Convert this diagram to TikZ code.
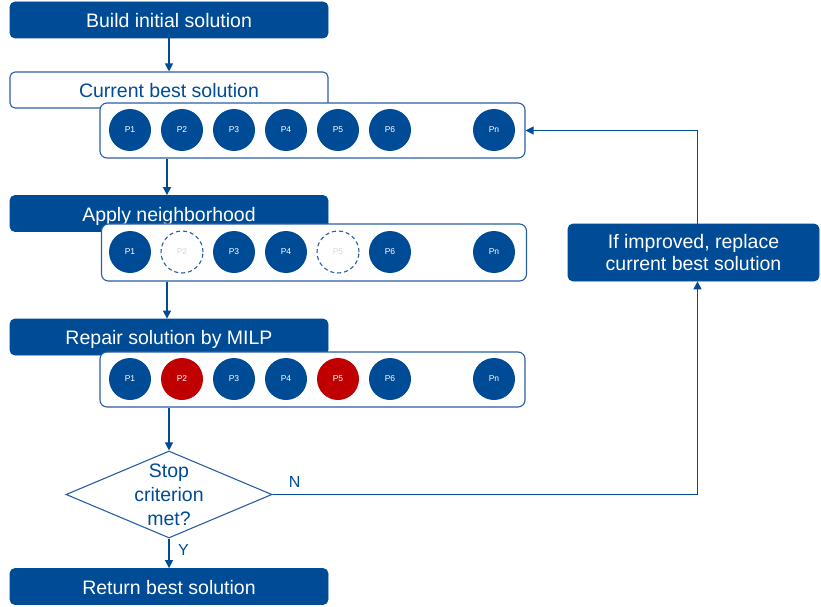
\documentclass[tikz,border=0pt]{standalone}
\usepackage{fontspec}
\setmainfont{Liberation Sans}
\usetikzlibrary{shapes.geometric,arrows.meta}
\definecolor{dblue}{RGB}{0,75,150}
\definecolor{lblue}{RGB}{40,95,165}
\definecolor{dred}{RGB}{192,0,0}
\definecolor{pgray}{RGB}{215,215,215}
\begin{document}
\begin{tikzpicture}[x=1pt,y=-1pt,
  head/.style={draw=dblue,fill=dblue,text=white,rounded corners=5pt,minimum width=318pt,minimum height=36pt,inner sep=0pt,font=\fontsize{19.5}{23}\selectfont,line width=0.8pt},
  headone/.style={head,text height=15pt,text depth=0pt},
  headw/.style={headone,fill=white,draw=lblue,text=dblue,line width=1.1pt},
  rowbox/.style={draw=lblue,fill=white,rounded corners=7pt,line width=1.1pt,minimum width=425pt,inner sep=0pt},
  pc/.style={circle,fill=dblue,text=white,minimum size=42pt,inner sep=0pt,font=\fontsize{8.5}{10}\selectfont},
  pcred/.style={pc,fill=dred},
  pcdash/.style={pc,fill=white,draw=lblue,dash pattern=on 4pt off 3pt,line width=1.1pt,text=pgray},
  arr/.style={draw=dblue,line width=1.2pt,-{Triangle[length=8pt,width=8pt]}},
  lbl/.style={text=dblue,font=\fontsize{19.5}{24}\selectfont,inner sep=0pt},
  dia/.style={diamond,draw=lblue,fill=white,line width=1.1pt,minimum width=206pt,minimum height=87pt,inner sep=0pt}
]
\useasboundingbox (0,0) rectangle (821,607);

% headings
\node[headone] (build) at (169,20) {Build initial solution};
\node[headw] (current) at (169,90) {Current best solution};
\node[headone] (apply) at (169,213.5) {Apply neighborhood};
\node[headone] (repair) at (169,337) {Repair solution by MILP};
\node[headone] (ret) at (169,586.5) {Return best solution};

% row boxes
\node[rowbox,minimum height=55pt] (row1) at (312.5,130.5) {};
\node[rowbox,minimum height=57pt] (row2) at (314,252.5) {};
\node[rowbox,minimum height=55pt] (row3) at (312.5,379.5) {};

% row 1
\foreach \i/\x/\t in {1/130/P1,2/182/P2,3/234/P3,4/286/P4,5/338/P5,6/390/P6,n/494/Pn}
  \node[pc] (a\i) at (\x,130) {\t};
% row 2
\node[pc] (b1) at (130,252) {P1};
\node[pcdash] (b2) at (182,252) {P2};
\node[pc] (b3) at (234,252) {P3};
\node[pc] (b4) at (286,252) {P4};
\node[pcdash] (b5) at (338,252) {P5};
\node[pc] (b6) at (390,252) {P6};
\node[pc] (bn) at (494,252) {Pn};
% row 3
\node[pc] (c1) at (130,379) {P1};
\node[pcred] (c2) at (182,379) {P2};
\node[pc] (c3) at (234,379) {P3};
\node[pc] (c4) at (286,379) {P4};
\node[pcred] (c5) at (338,379) {P5};
\node[pc] (c6) at (390,379) {P6};
\node[pc] (cn) at (494,379) {Pn};

% decision
\node[dia] (dia) at (169,494.5) {};
\node[lbl,align=center] (diat) at (169,494.5) {Stop\\criterion\\met?};

% right box
\node[head,minimum width=251pt,minimum height=57pt,align=center,font=\fontsize{19.5}{22.5}\selectfont] (imp) at (693.5,252.5) {If improved, replace\\current best solution};

% connectors
\draw[arr] (build) -- (current);
\draw[arr] (row1.south -| 167,0) -- (apply.north -| 167,0);
\draw[arr] (row2.south -| 167,0) -- (repair.north -| 167,0);
\draw[arr] (row3.south -| dia.north) -- (dia.north);
\draw[arr] (dia.south) -- (ret.north);
\draw[arr] (dia.east) -- ([xshift=4pt]dia.east -| imp.south) -- ([xshift=4pt]imp.south);
\draw[arr] ([xshift=4pt]imp.north) |- (row1.east);

% labels
\node[lbl,anchor=base west,font=\fontsize{16}{19}\selectfont] (nlab) at ([xshift=16pt,yshift=7pt]dia.east) {N};
\node[lbl,anchor=base west,font=\fontsize{16}{19}\selectfont] (ylab) at ([xshift=9pt,yshift=-17pt]dia.south) {Y};
\end{tikzpicture}
\end{document}
